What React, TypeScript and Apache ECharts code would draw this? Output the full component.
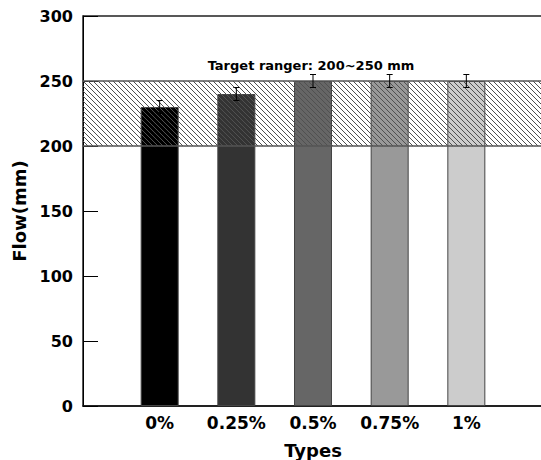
import React, { useEffect, useRef } from "react";
import * as echarts from "echarts";

const categories = ["0%", "0.25%", "0.5%", "0.75%", "1%"];
const flowValues = [230, 240, 250, 250, 250];
const flowErrors = [5, 5, 5, 5, 5];
const targetRange = [200, 250];
const targetLabel = "Target ranger: 200~250 mm";
const yAxisName = "Flow(mm)";
const xAxisName = "Types";

const barColors = ["#000000", "#333333", "#666666", "#999999", "#cccccc"];
const FONT = "DejaVu Sans";

export default function App() {
  const ref = useRef<HTMLDivElement>(null);

  useEffect(() => {
    if (!ref.current) return;
    const chart = echarts.init(ref.current, undefined, { renderer: "svg" });

    const barData = categories.map((c, i) => ({
      value: [i + 1, flowValues[i]],
      itemStyle: { color: barColors[i] },
    }));

    const errData = categories.map((c, i) => [
      i + 1,
      flowValues[i] - flowErrors[i],
      flowValues[i] + flowErrors[i],
    ]);

    const option: any = {
      animation: false,
      backgroundColor: "#ffffff",
      grid: {
        left: 83,
        top: 16,
        width: 460,
        height: 390,
        outerBoundsMode: "none",
        containLabel: false,
        show: true,
        borderColor: "#222",
        borderWidth: 1.5,
        backgroundColor: "transparent",
      },
      xAxis: {
        type: "value",
        min: 0,
        max: categories.length + 1,
        interval: 1,
        name: xAxisName,
        nameLocation: "middle",
        nameGap: 35,
        nameTextStyle: { fontFamily: FONT, fontWeight: "bold", fontSize: 18, color: "#000" },
        axisLine: { show: true, lineStyle: { color: "#111", width: 1.5 } },
        axisTick: { show: false },
        splitLine: { show: false },
        axisLabel: {
          fontFamily: FONT,
          fontWeight: "bold",
          fontSize: 17,
          color: "#000",
          margin: 8,
          formatter: (v: number) => categories[v - 1] ?? "",
        },
      },
      yAxis: {
        type: "value",
        min: 0,
        max: 300,
        interval: 50,
        name: yAxisName,
        nameLocation: "middle",
        nameGap: 52,
        nameRotate: 90,
        nameTextStyle: { fontFamily: FONT, fontWeight: "bold", fontSize: 18, color: "#000" },
        axisLine: { show: true, lineStyle: { color: "#000", width: 1 } },
        axisTick: { show: true, inside: true, length: 15, lineStyle: { color: "#000", width: 1 } },
        splitLine: { show: false },
        axisLabel: { fontFamily: FONT, fontWeight: "bold", fontSize: 16, color: "#000", margin: 10 },
      },
      series: [
        {
          type: "bar",
          data: barData,
          barWidth: 38,
          z: 2,
          itemStyle: { borderColor: "#444", borderWidth: 1 },
        },
        {
          type: "custom",
          z: 3,
          data: [[0, targetRange[0], targetRange[1]]],
          encode: { x: 0, y: [1, 2] },
          renderItem: (params: any, api: any) => {
            const cs = params.coordSys;
            const lo = api.coord([0, api.value(1)]);
            const hi = api.coord([0, api.value(2)]);
            const x0 = cs.x;
            const x1 = cs.x + cs.width;
            const y0 = hi[1];
            const y1 = lo[1];
            const children: any[] = [];
            const step = 5;
            for (let c = x0 - y1; c <= x1 - y0; c += step) {
              const ya = Math.max(y0, x0 - c);
              const yb = Math.min(y1, x1 - c);
              if (yb > ya) {
                children.push({
                  type: "line",
                  shape: { x1: ya + c, y1: ya, x2: yb + c, y2: yb },
                  style: { stroke: "#505050", lineWidth: 1 },
                  silent: true,
                });
              }
            }
            children.push({
              type: "line",
              shape: { x1: x0, y1: y0, x2: x1, y2: y0 },
              style: { stroke: "#555", lineWidth: 1.5 },
            });
            children.push({
              type: "line",
              shape: { x1: x0, y1: y1, x2: x1, y2: y1 },
              style: { stroke: "#555", lineWidth: 1.5 },
            });
            children.push({
              type: "text",
              x: x0 + cs.width / 2 - 2,
              y: y0 - 16,
              style: {
                text: targetLabel,
                fontFamily: FONT,
                fontWeight: "bold",
                fontSize: 13,
                fill: "#000",
                align: "center",
                verticalAlign: "middle",
              },
            });
            return { type: "group", children };
          },
        },
        {
          type: "custom",
          z: 4,
          data: errData,
          encode: { x: 0, y: [1, 2] },
          renderItem: (params: any, api: any) => {
            const lo = api.coord([api.value(0), api.value(1)]);
            const hi = api.coord([api.value(0), api.value(2)]);
            const hw = 3;
            const st = { stroke: "#000", lineWidth: 1 };
            return {
              type: "group",
              children: [
                { type: "line", shape: { x1: lo[0], y1: lo[1], x2: hi[0], y2: hi[1] }, style: st },
                { type: "line", shape: { x1: hi[0] - hw, y1: hi[1], x2: hi[0] + hw, y2: hi[1] }, style: st },
                { type: "line", shape: { x1: lo[0] - hw, y1: lo[1], x2: lo[0] + hw, y2: lo[1] }, style: st },
              ],
            };
          },
        },
      ],
    };

    chart.setOption(option);
    return () => chart.dispose();
  }, []);

  return (
    <div
      ref={ref}
      style={{ position: "absolute", left: 0, top: 0, width: 541, height: 460 }}
    />
  );
}
